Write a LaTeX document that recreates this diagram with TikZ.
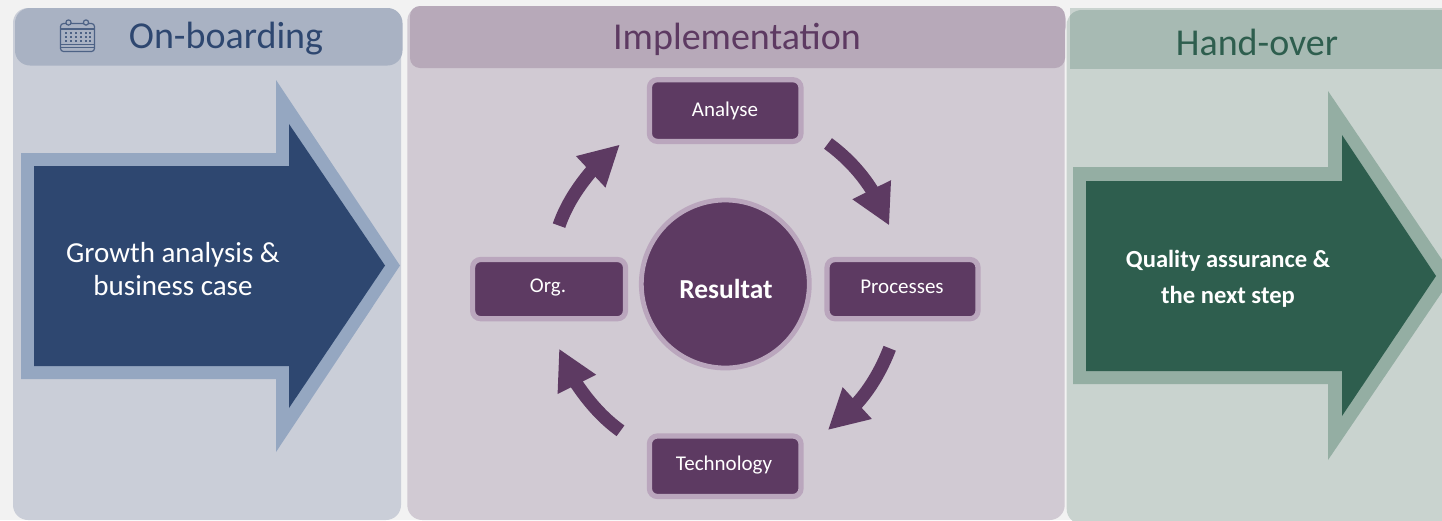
\documentclass[tikz,border=0pt]{standalone}
\usepackage{fontspec}
\setmainfont{Carlito}
\usetikzlibrary{arrows.meta}
\definecolor{bg}{HTML}{F2F2F2}
\definecolor{bluepanel}{HTML}{CACED8}
\definecolor{bluehead}{HTML}{A9B2C3}
\definecolor{bluedark}{HTML}{2E4770}
\definecolor{blueedge}{HTML}{95A7C1}
\definecolor{purppanel}{HTML}{D1CAD3}
\definecolor{purphead}{HTML}{B7A9B9}
\definecolor{purpdark}{HTML}{5D3A62}
\definecolor{purpedge}{HTML}{BAA6BD}
\definecolor{greenpanel}{HTML}{C9D3CF}
\definecolor{greenhead}{HTML}{A7BAB3}
\definecolor{greendark}{HTML}{2E5E4E}
\definecolor{greenedge}{HTML}{94AEA3}
\tikzset{
  x=1pt,y=-1pt,
  headtext/.style={font=\fontsize{38}{42}\selectfont,anchor=center,inner sep=0pt},
  stepbox/.style={rounded corners=8pt,fill=purpdark,draw=purpedge,line width=5.2pt},
  steptext/.style={text=white,font=\fontsize{21}{24}\selectfont,anchor=center,inner sep=0pt},
  cyclearrow/.style={draw=purpdark,line width=13.2pt,-{Triangle[length=40pt,width=40pt,fill=purpdark]}},
  bigtext/.style={text=white,anchor=center,align=center,inner sep=0pt},
}
\begin{document}
\begin{tikzpicture}
\useasboundingbox (0,0) rectangle (1442,520);
\fill[bg] (0,0) rectangle (1442,520);
% panels
\fill[bluepanel,rounded corners=15pt] (13,8) rectangle (401,520);
\fill[bluehead,rounded corners=15pt] (15,8) rectangle (402.5,65.5);
\fill[purppanel,rounded corners=15pt] (407.3,6) rectangle (1064.7,520);
\fill[purppanel,rounded corners=15pt] (1000,6) rectangle (1066,40);
\fill[purphead,rounded corners=10pt] (410,6) rectangle (1065,68);
\fill[greenpanel,rounded corners=15pt] (1066.7,10) rectangle (1470,524);
\fill[greenpanel] (1070,8) rectangle (1442,40);
\begin{scope}
\clip (1070,0) rectangle (1442,68);
\fill[greenhead,rounded corners=15pt] (1066.7,10) rectangle (1470,90);
\end{scope}
% calendar icon
\begin{scope}[draw=bluedark!75!bluehead,line width=1.2pt]
\draw[rounded corners=3pt] (60.5,23.5) rectangle (94.5,51.5);
\draw (60.5,47.5) -- (94.5,47.5);
\draw (60.5,44.5) -- (94.5,44.5);
\draw (60.5,29) -- (94.5,29);
\draw[fill=bluehead] (68.5,22.5) circle (2.6pt);
\draw[fill=bluehead] (86,22.5) circle (2.6pt);
\foreach \yy in {33,37,41}\foreach \xx in {66,71,76,81,86,90}
  \fill[bluedark!75!bluehead] (\xx-0.9,\yy-0.9) rectangle (\xx+0.9,\yy+0.9);
\end{scope}
\node[headtext,text=bluedark] (onb) at (226,39) {On-boarding};
\node[headtext,text=purpdark] (impl) at (737,39) {Implementation};
\node[headtext,text=greendark] (hand) at (1257,42) {Hand-over};
% big arrows
\fill[blueedge] (21,153) -- (276,153) -- (276,80) -- (400,265.5) -- (276,452) -- (276,379) -- (21,379) -- cycle;
\fill[bluedark] (34,166) -- (289,166) -- (289,124) -- (385,265.5) -- (289,408) -- (289,366) -- (34,366) -- cycle;
\node[bigtext,font=\fontsize{29}{33}\selectfont] (growth) at (173,269) {Growth analysis \&\\business case};
\fill[greenedge] (1073,167) -- (1328,167) -- (1328,91) -- (1453,276) -- (1328,460) -- (1328,384) -- (1073,384) -- cycle;
\fill[greendark] (1086,181) -- (1342,181) -- (1342,135) -- (1436,276) -- (1342,416) -- (1342,371) -- (1086,371) -- cycle;
\node[bigtext,font=\bfseries\fontsize{24.6}{36}\selectfont] (quality) at (1228,279) {Quality assurance \&\\the next step};
% cycle nodes
\draw[stepbox] (649.4,79.7) rectangle (801,141.4);
\draw[stepbox] (472.6,259.5) rectangle (625.5,318.7);
\draw[stepbox] (827,259.5) rectangle (978,318.7);
\draw[stepbox] (649.4,436) rectangle (801,496.5);
\node[steptext] (analyse) at (725,111) {Analyse};
\node[steptext] (org) at (548,287) {Org.};
\node[steptext] (proc) at (902,286.5) {Processes};
\node[steptext] (tech) at (724,465.5) {Technology};
\fill[purpdark,draw=purpedge,line width=4.8pt] (725.3,284) circle (84pt);
\node[steptext,font=\bfseries\fontsize{27.4}{30}\selectfont] (res) at (726,289) {Resultat};
% cycle arrows
\coordinate (a1) at (828,143.5);
\coordinate (a2) at (871.6,189.6);
\coordinate (a3) at (889.3,225.6);
\coordinate (b1) at (889.7,348.3);
\coordinate (b2) at (856.9,403.4);
\coordinate (b3) at (827.8,430.1);
\coordinate (c1) at (620.5,430.8);
\coordinate (c2) at (576.8,384.2);
\coordinate (c3) at (559,348.6);
\coordinate (d1) at (559,225.6);
\coordinate (d2) at (591.2,171.4);
\coordinate (d3) at (619.9,144.5);
\draw[cyclearrow] (a1) .. controls (845.4,156.2) and (860,171.5) .. (a2) -- (a3);
\draw[cyclearrow] (b1) .. controls (881.9,368.3) and (871.3,387.5) .. (b2) -- (b3);
\draw[cyclearrow] (c1) .. controls (603,418.3) and (588.8,402) .. (c2) -- (c3);
\draw[cyclearrow] (d1) .. controls (566.1,205.3) and (577.4,187.8) .. (d2) -- (d3);
\end{tikzpicture}
\end{document}
